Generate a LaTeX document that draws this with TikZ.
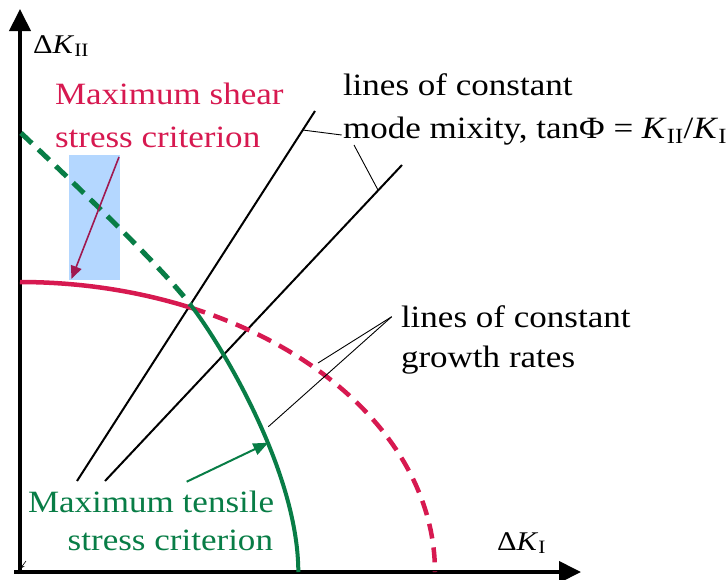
\documentclass[tikz,border=0pt]{standalone}
\usepackage{fontspec}
\setmainfont{Liberation Serif}
\usetikzlibrary{arrows.meta}
\definecolor{crim}{RGB}{215,25,80}
\definecolor{grn}{RGB}{8,125,70}
\definecolor{maroonarrow}{RGB}{160,25,80}
\definecolor{lblue}{RGB}{180,215,255}
\newcommand{\stx}[1]{\scalebox{1.13}[1]{#1}}
\tikzset{
  lbl/.style={inner sep=0pt, outer sep=0pt, font=\fontsize{31}{36}\selectfont, anchor=base west},
  axislbl/.style={inner sep=0pt, outer sep=0pt, font=\fontsize{27}{32}\selectfont, anchor=base west},
  axisline/.style={line width=4pt, -{Triangle[length=22pt,width=21pt]}},
  modeline/.style={line width=2pt, black},
  leader/.style={line width=0.9pt, black},
  redsolid/.style={line width=4.5pt, crim},
  reddash/.style={line width=4.5pt, crim, dash pattern=on 15pt off 9pt},
  grnsolid/.style={line width=4pt, grn},
  grndash/.style={line width=5pt, grn, dash pattern=on 15pt off 9pt},
}
\begin{document}
\begin{tikzpicture}[x=1pt,y=-1pt]
\useasboundingbox (0,0) rectangle (727,579);
\fill[white] (0,0) rectangle (727,579);

% highlight box
\fill[lblue] (69,155) rectangle (120,280);

% axes
\coordinate (ybot) at (20,574);
\coordinate (ytip) at (20,9);
\coordinate (xleft) at (14,572);
\coordinate (xtip) at (581,572);
\draw[axisline] (ybot) -- (ytip);
\draw[axisline] (xleft) -- (xtip);
\coordinate (tinyA) at (26,561);
\coordinate (tinyB) at (20,569);
\draw[line width=0.6pt, -{Stealth[length=5pt,width=4pt]}] (tinyA) -- (tinyB);

% lines of constant mode mixity
\coordinate (m1a) at (77,481);
\coordinate (m1b) at (315,111);
\coordinate (m2a) at (105,481);
\coordinate (m2b) at (402,165);
\draw[modeline] (m1a) -- (m1b);
\draw[modeline] (m2a) -- (m2b);

% maximum shear stress criterion (ellipse)
\draw[redsolid] plot[domain=90:65.7, samples=40] ({20+415*cos(\x)},{572-290*sin(\x)});
\draw[reddash] plot[domain=65.7:0, samples=80] ({20+415*cos(\x)},{572-290*sin(\x)});

% maximum tensile stress criterion
\coordinate (g0) at (21,133);
\coordinate (gx) at (190.7,305);
\coordinate (g1) at (298.3,572);
\draw[grndash] (g0) .. controls (78,187) and (160.2,265.5) .. (gx);
\draw[grnsolid] (gx) .. controls (221.2,344.5) and (298.3,471.7) .. (g1);

% axis labels
\node[axislbl] (kii) at (33,53) {\stx{Δ\textit{K}\textsubscript{II}}};
\node[axislbl] (ki) at (497,550) {\stx{Δ\textit{K}\textsubscript{I}}};

% shear label and arrow
\node[lbl, text=crim] (sh1) at (55,104) {\stx{Maximum shear}};
\node[lbl, text=crim] (sh2) at (55,147) {\stx{stress criterion}};
\coordinate (sa0) at (119,157);
\coordinate (sa1) at (71.5,279);
\draw[maroonarrow, line width=1.6pt, -{Triangle[length=13pt,width=11pt]}] (sa0) -- (sa1);

% tensile label and arrow
\node[lbl, text=grn] (te1) at (28,512) {\stx{Maximum tensile}};
\node[lbl, text=grn, anchor=base east] (te2) at (273,550) {\stx{stress criterion}};
\coordinate (ta0) at (186.7,481.7);
\coordinate (ta1) at (268.3,442.7);
\draw[grn, line width=2pt, -{Triangle[length=15pt,width=12pt]}] (ta0) -- (ta1);

% mode mixity label
\node[lbl] (mm1) at (343,95) {\stx{lines of constant}};
\node[lbl] (mm2) at (343,138) {\stx{mode mixity, tanΦ = \textit{K}\textsubscript{II}/\textit{K}\textsubscript{I}}};
\coordinate (ml0) at (341.7,135);
\coordinate (ml1) at (302.6,130);
\coordinate (ml2) at (354,145);
\coordinate (ml3) at (378,190);
\draw[leader] (ml0) -- (ml1);
\draw[leader] (ml2) -- (ml3);

% growth rate label
\node[lbl] (gr1) at (401,327) {\stx{lines of constant}};
\node[lbl] (gr2) at (401,367) {\stx{growth rates}};
\coordinate (gl0) at (391.7,316.7);
\coordinate (gl1) at (318,363);
\coordinate (gl2) at (268.3,426.7);
\draw[leader] (gl0) -- (gl1);
\draw[leader] (gl0) -- (gl2);
\end{tikzpicture}
\end{document}
